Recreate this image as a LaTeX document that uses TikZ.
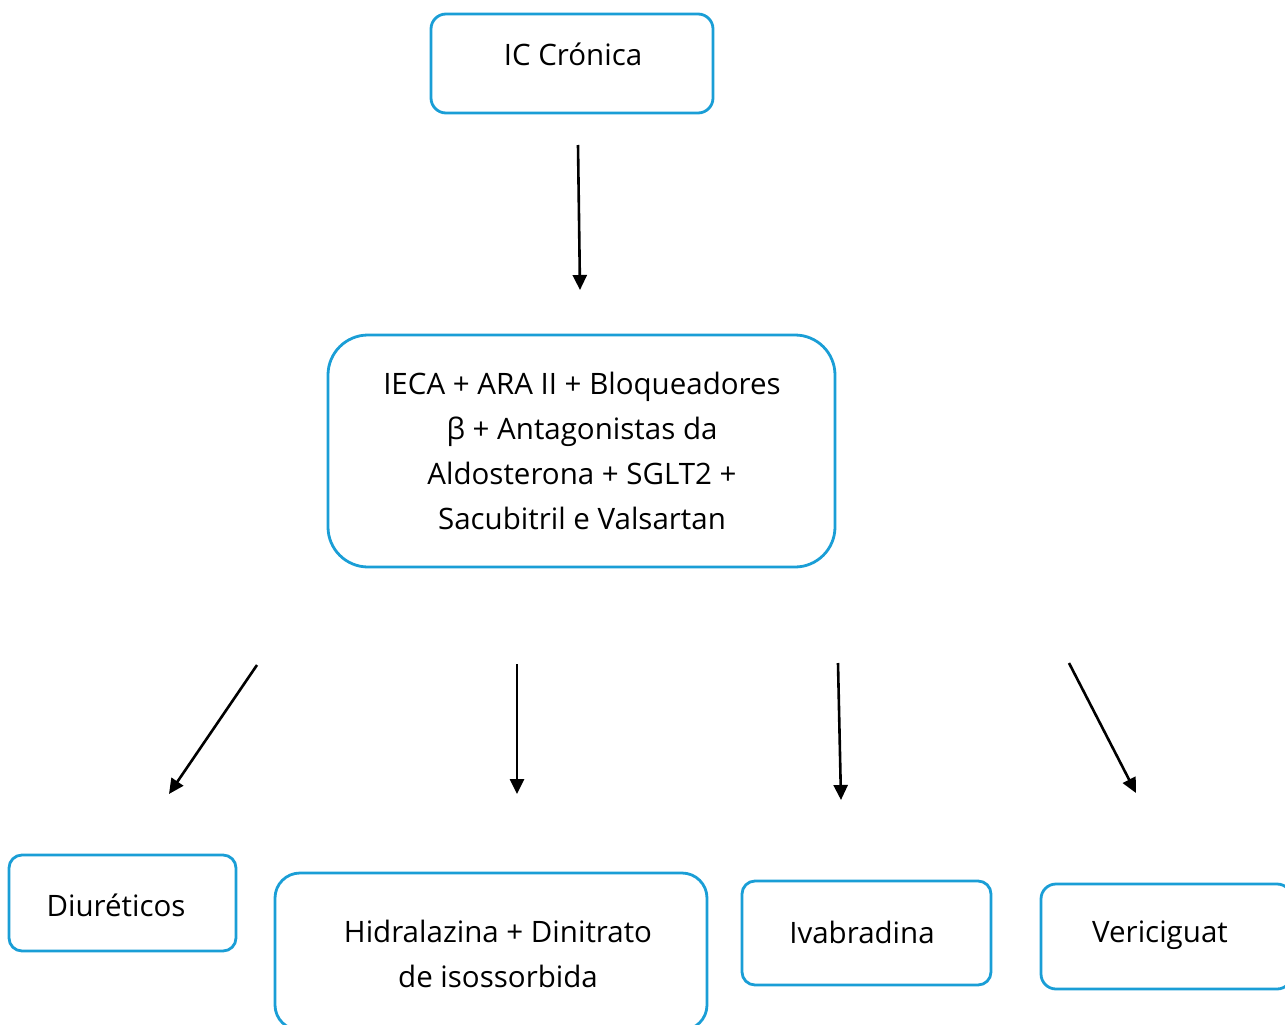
\documentclass[tikz,border=0pt]{standalone}
\usepackage{fontspec}
\setmainfont{Open Sans}
\usetikzlibrary{arrows.meta}
\definecolor{boxblue}{RGB}{26,158,214}
\begin{document}
\begin{tikzpicture}[x=1pt,y=-1pt,
  box/.style={draw=boxblue,line width=2.8pt,fill=white},
  lbl/.style={font=\fontsize{29.5}{45}\selectfont,align=center,text=black},
  arr/.style={draw=black,line width=2.6pt,-{Triangle[length=15pt,width=14pt]}}]
\useasboundingbox (0,0) rectangle (1285,1025);
% boxes
\draw[box,rounded corners=15] (431,14) rectangle (713,113);
\node[lbl] (ic) at (573,54) {IC Crónica};
\draw[box,rounded corners=40] (328,335) rectangle (835,567);
\node[lbl] (mid) at (582,451) {IECA + ARA II + Bloqueadores\\ β + Antagonistas da\\ Aldosterona + SGLT2 +\\ Sacubitril e Valsartan};
\draw[box,rounded corners=13] (9,855) rectangle (236,951);
\node[lbl] (diu) at (116,905) {Diuréticos};
\draw[box,rounded corners=25] (275,873) rectangle (707,1030);
\node[lbl] (hid) at (498,954) {Hidralazina + Dinitrato\\ de isossorbida};
\draw[box,rounded corners=13] (742,881) rectangle (991,985);
\node[lbl] (iva) at (862,932) {Ivabradina};
\draw[box,rounded corners=15] (1041,884) rectangle (1292,989);
\node[lbl] (ver) at (1160,935) {Vericiguat};
% arrow end points
\coordinate (a1s) at (578,145); \coordinate (a1e) at (580,290);
\coordinate (a2s) at (257,665); \coordinate (a2e) at (169,794);
\coordinate (a3s) at (517,664); \coordinate (a3e) at (517,794);
\coordinate (a4s) at (838,663); \coordinate (a4e) at (841,800);
\coordinate (a5s) at (1069,663); \coordinate (a5e) at (1136,793);
\draw[arr] (a1s) -- (a1e);
\draw[arr] (a2s) -- (a2e);
\draw[arr] (a3s) -- (a3e);
\draw[arr] (a4s) -- (a4e);
\draw[arr] (a5s) -- (a5e);
\end{tikzpicture}
\end{document}
